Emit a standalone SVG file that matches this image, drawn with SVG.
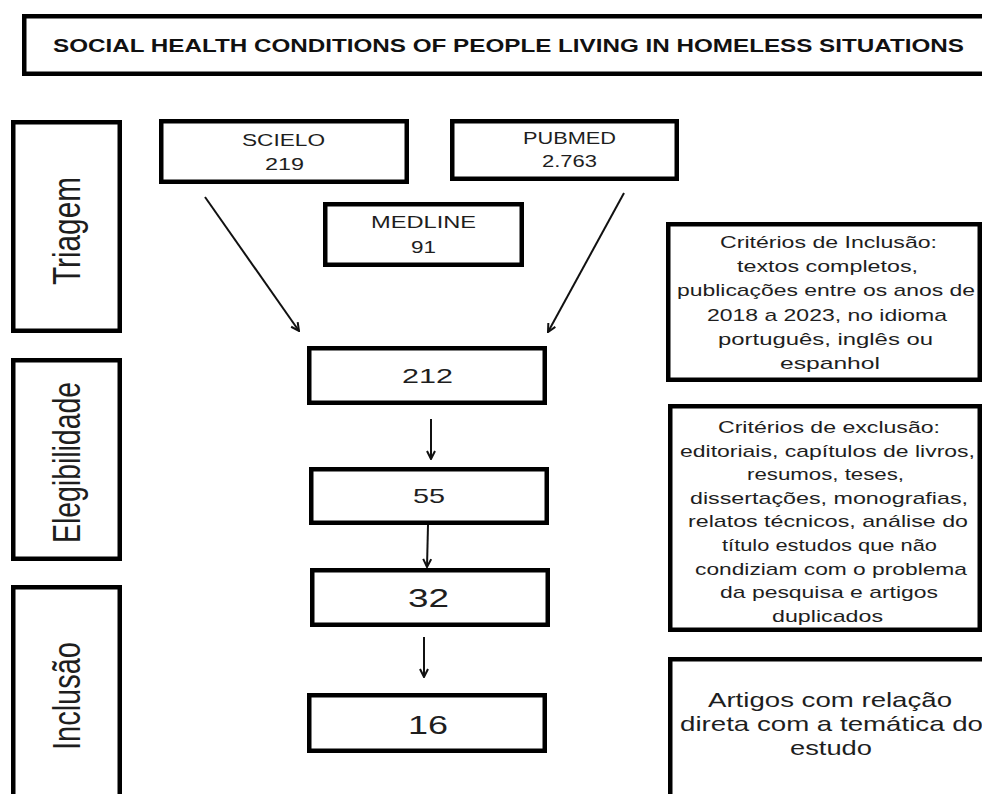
<svg xmlns="http://www.w3.org/2000/svg" width="982" height="794" viewBox="0 0 982 794">
<defs>
<style>
.box{fill:#fff;stroke:#000;stroke-width:4.5}
.t{font-family:"Liberation Sans",Arial,sans-serif;fill:#1e1e1e;font-size:16px}
.tt{font-family:"Liberation Sans",Arial,sans-serif;fill:#111;font-size:18px;font-weight:bold}
.n1{font-size:21px}
.n2{font-size:26px}
.c{font-size:17px}
.a{font-size:21px}
.s{font-family:"Liberation Sans",Arial,sans-serif;fill:#1e1e1e;font-size:29px}
.ln{stroke:#111;stroke-width:2;fill:none}
</style>
<marker id="ah" markerWidth="10" markerHeight="10" refX="9" refY="5" orient="auto" markerUnits="userSpaceOnUse">
<path d="M1,1 L9,5 L1,9" fill="none" stroke="#111" stroke-width="2"/>
</marker>
</defs>
<rect width="982" height="794" fill="#fff"/>

<g id="title">
<rect class="box" x="24.25" y="16.25" width="1000" height="57.5"/>
<text class="tt" x="53" y="52" textLength="911" lengthAdjust="spacingAndGlyphs">SOCIAL HEALTH CONDITIONS OF PEOPLE LIVING IN HOMELESS SITUATIONS</text>
</g>

<g id="stage-triagem">
<rect class="box" x="13.25" y="122.25" width="106.5" height="208.5"/>
<text class="s" transform="translate(80,285) scale(1.33,1) rotate(-90)" x="0" y="0" textLength="108" lengthAdjust="spacingAndGlyphs">Triagem</text>
</g>
<g id="stage-elegibilidade">
<rect class="box" x="13.25" y="360.25" width="106.5" height="198.5"/>
<text class="s" transform="translate(80,543) scale(1.33,1) rotate(-90)" x="0" y="0" textLength="161" lengthAdjust="spacingAndGlyphs">Elegibilidade</text>
</g>
<g id="stage-inclusao">
<rect class="box" x="13.25" y="587.25" width="106.5" height="250"/>
<text class="s" transform="translate(80,750) scale(1.33,1) rotate(-90)" x="0" y="0" textLength="108" lengthAdjust="spacingAndGlyphs">Inclusão</text>
</g>

<g id="scielo">
<rect class="box" x="161.25" y="121.25" width="245.5" height="60.5"/>
<text class="t" x="242" y="146" textLength="83" lengthAdjust="spacingAndGlyphs">SCIELO</text>
<text class="t" x="265" y="169.5" textLength="39" lengthAdjust="spacingAndGlyphs">219</text>
</g>
<g id="pubmed">
<rect class="box" x="452.25" y="121.25" width="224.5" height="57.5"/>
<text class="t" x="523" y="144" textLength="93" lengthAdjust="spacingAndGlyphs">PUBMED</text>
<text class="t" x="542" y="167" textLength="55" lengthAdjust="spacingAndGlyphs">2.763</text>
</g>
<g id="medline">
<rect class="box" x="325.25" y="204.25" width="196.5" height="60.5"/>
<text class="t" x="371" y="228" textLength="105" lengthAdjust="spacingAndGlyphs">MEDLINE</text>
<text class="t" x="411" y="253" textLength="25" lengthAdjust="spacingAndGlyphs">91</text>
</g>

<g id="n212">
<rect class="box" x="309.25" y="348.25" width="235.5" height="54.5"/>
<text class="t n1" x="402" y="383" textLength="51" lengthAdjust="spacingAndGlyphs">212</text>
</g>
<g id="n55">
<rect class="box" x="311.25" y="469.25" width="235.5" height="53.5"/>
<text class="t n1" x="413" y="503" textLength="32" lengthAdjust="spacingAndGlyphs">55</text>
</g>
<g id="n32">
<rect class="box" x="312.25" y="570.25" width="235.5" height="54.5"/>
<text class="t n2" x="408" y="607" textLength="41" lengthAdjust="spacingAndGlyphs">32</text>
</g>
<g id="n16">
<rect class="box" x="309.25" y="695.25" width="235.5" height="55.5"/>
<text class="t n2" x="408" y="734" textLength="40" lengthAdjust="spacingAndGlyphs">16</text>
</g>

<g id="inclusion-criteria">
<rect class="box" x="668.25" y="224.25" width="311.5" height="155.5"/>
<text class="t c" x="720" y="248" textLength="217" lengthAdjust="spacingAndGlyphs">Critérios de Inclusão:</text>
<text class="t c" x="737" y="272" textLength="181" lengthAdjust="spacingAndGlyphs">textos completos,</text>
<text class="t c" x="677" y="296" textLength="298" lengthAdjust="spacingAndGlyphs">publicações entre os anos de</text>
<text class="t c" x="707" y="320.5" textLength="240" lengthAdjust="spacingAndGlyphs">2018 a 2023, no idioma</text>
<text class="t c" x="718" y="345" textLength="215" lengthAdjust="spacingAndGlyphs">português, inglês ou</text>
<text class="t c" x="780" y="369" textLength="100" lengthAdjust="spacingAndGlyphs">espanhol</text>
</g>

<g id="exclusion-criteria">
<rect class="box" x="670.25" y="406.25" width="309.5" height="223.5"/>
<text class="t c" x="718" y="433" textLength="222" lengthAdjust="spacingAndGlyphs">Critérios de exclusão:</text>
<text class="t c" x="680" y="456.6" textLength="295" lengthAdjust="spacingAndGlyphs">editoriais, capítulos de livros,</text>
<text class="t c" x="747" y="480.2" textLength="157" lengthAdjust="spacingAndGlyphs">resumos, teses,</text>
<text class="t c" x="690" y="503.8" textLength="278" lengthAdjust="spacingAndGlyphs">dissertações, monografias,</text>
<text class="t c" x="688" y="527.4" textLength="280" lengthAdjust="spacingAndGlyphs">relatos técnicos, análise do</text>
<text class="t c" x="722" y="551" textLength="215" lengthAdjust="spacingAndGlyphs">título estudos que não</text>
<text class="t c" x="695" y="574.6" textLength="272" lengthAdjust="spacingAndGlyphs">condiziam com o problema</text>
<text class="t c" x="720" y="598.2" textLength="218" lengthAdjust="spacingAndGlyphs">da pesquisa e artigos</text>
<text class="t c" x="772" y="621.8" textLength="111" lengthAdjust="spacingAndGlyphs">duplicados</text>
</g>

<g id="included-articles">
<rect class="box" x="670.25" y="659.25" width="400" height="200"/>
<text class="t a" x="708" y="707" textLength="244" lengthAdjust="spacingAndGlyphs">Artigos com relação</text>
<text class="t a" x="680" y="731" textLength="303" lengthAdjust="spacingAndGlyphs">direta com a temática do</text>
<text class="t a" x="790" y="755" textLength="82" lengthAdjust="spacingAndGlyphs">estudo</text>
</g>

<g id="connectors">
<line class="ln" x1="205" y1="197" x2="299" y2="331" marker-end="url(#ah)"/>
<line class="ln" x1="624" y1="193" x2="548" y2="332" marker-end="url(#ah)"/>
<line class="ln" x1="431" y1="419" x2="431" y2="459" marker-end="url(#ah)"/>
<line class="ln" x1="428" y1="525" x2="427" y2="567" marker-end="url(#ah)"/>
<line class="ln" x1="424" y1="637" x2="424" y2="677" marker-end="url(#ah)"/>
</g>
</svg>
